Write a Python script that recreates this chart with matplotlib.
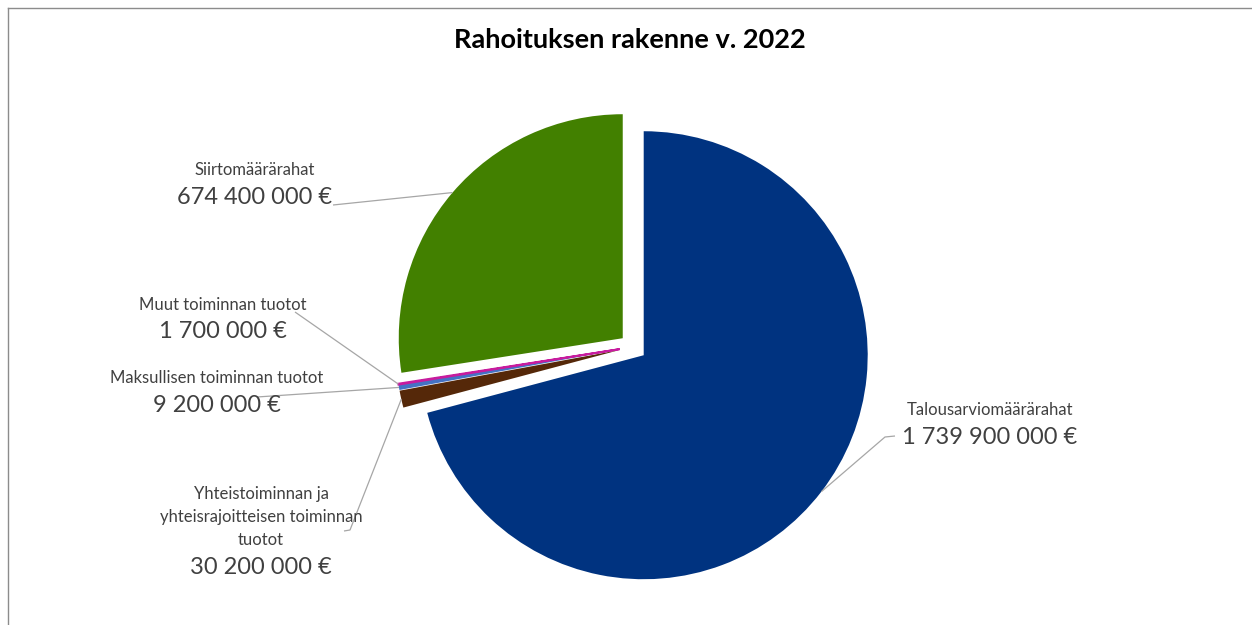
import numpy as np
import matplotlib.pyplot as plt

plt.rcParams['font.family'] = ['Lato', 'DejaVu Sans']

# funding sources, in clockwise order from 12 o'clock
labels = ['Talousarviomäärärahat',
          'Yhteistoiminnan ja\nyhteisrajoitteisen toiminnan\ntuotot',
          'Maksullisen toiminnan tuotot',
          'Muut toiminnan tuotot',
          'Siirtomäärärahat']
values = [1739900000, 30200000, 9200000, 1700000, 674400000]
colors = ['#003380', '#552809', '#4472C4', '#C71C9E', '#428000']

W, H = 1252, 625

# label layout in pixels (x centre, y of category line, y of value line, leader path end)
label_x = [990, 261, 217, 223, 255]
label_y = [410, 517, 378, 305, 170]
value_y = [437, 567, 405, 332, 197]
leader_end = [[(885, 437), (895, 436)],
              [(350, 530), (344, 531)],
              [(257, 397)],
              [(295, 312)],
              [(333, 205)]]


def euro(v):
    return f'{v:,.0f}'.replace(',', ' ') + ' €'


fig = plt.figure(figsize=(W / 100, H / 100), dpi=100)
ax = fig.add_axes([0, 0, 1, 1])

radius = 224
# explode is in data units here (pixels)
wedges, _ = ax.pie(values, colors=colors, startangle=90, counterclock=False,
                   explode=[13.5] * len(values), radius=radius,
                   center=(633, H - 347), wedgeprops=dict(linewidth=0))
# the tiny slice gets an outline so it stays visible
wedges[3].set_edgecolor(colors[3])
wedges[3].set_linewidth(1.4)

ax.set_xlim(0, W)
ax.set_ylim(0, H)
ax.set_aspect('auto')
ax.axis('off')

text_col = '#404040'
line_col = '#A6A6A6'

for i, w in enumerate(wedges):
    # leader line starts at the middle of the slice's arc
    mid = np.deg2rad((w.theta1 + w.theta2) / 2)
    cx, cy = w.center
    x0 = cx + w.r * np.cos(mid)
    y0 = cy + w.r * np.sin(mid)
    xs = [x0] + [p[0] for p in leader_end[i]]
    ys = [y0] + [H - p[1] for p in leader_end[i]]
    ax.plot(xs, ys, color=line_col, lw=0.9, solid_capstyle='butt')

    ax.text(label_x[i], H - label_y[i], labels[i], ha='center', va='center',
            fontsize=12, color=text_col, linespacing=1.55)
    ax.text(label_x[i], H - value_y[i], euro(values[i]), ha='center', va='center',
            fontsize=17, color=text_col)

ax.text(630, H - 40, 'Rahoituksen rakenne v. 2022', ha='center', va='center',
        fontsize=19.5, fontweight='bold', color='black')

# chart area border (top and left edges)
ax.plot([8, W], [H - 8, H - 8], color='#8C8C8C', lw=1)
ax.plot([8, 8], [H - 8, 0], color='#8C8C8C', lw=1)

fig.savefig('out.png', dpi=100)
